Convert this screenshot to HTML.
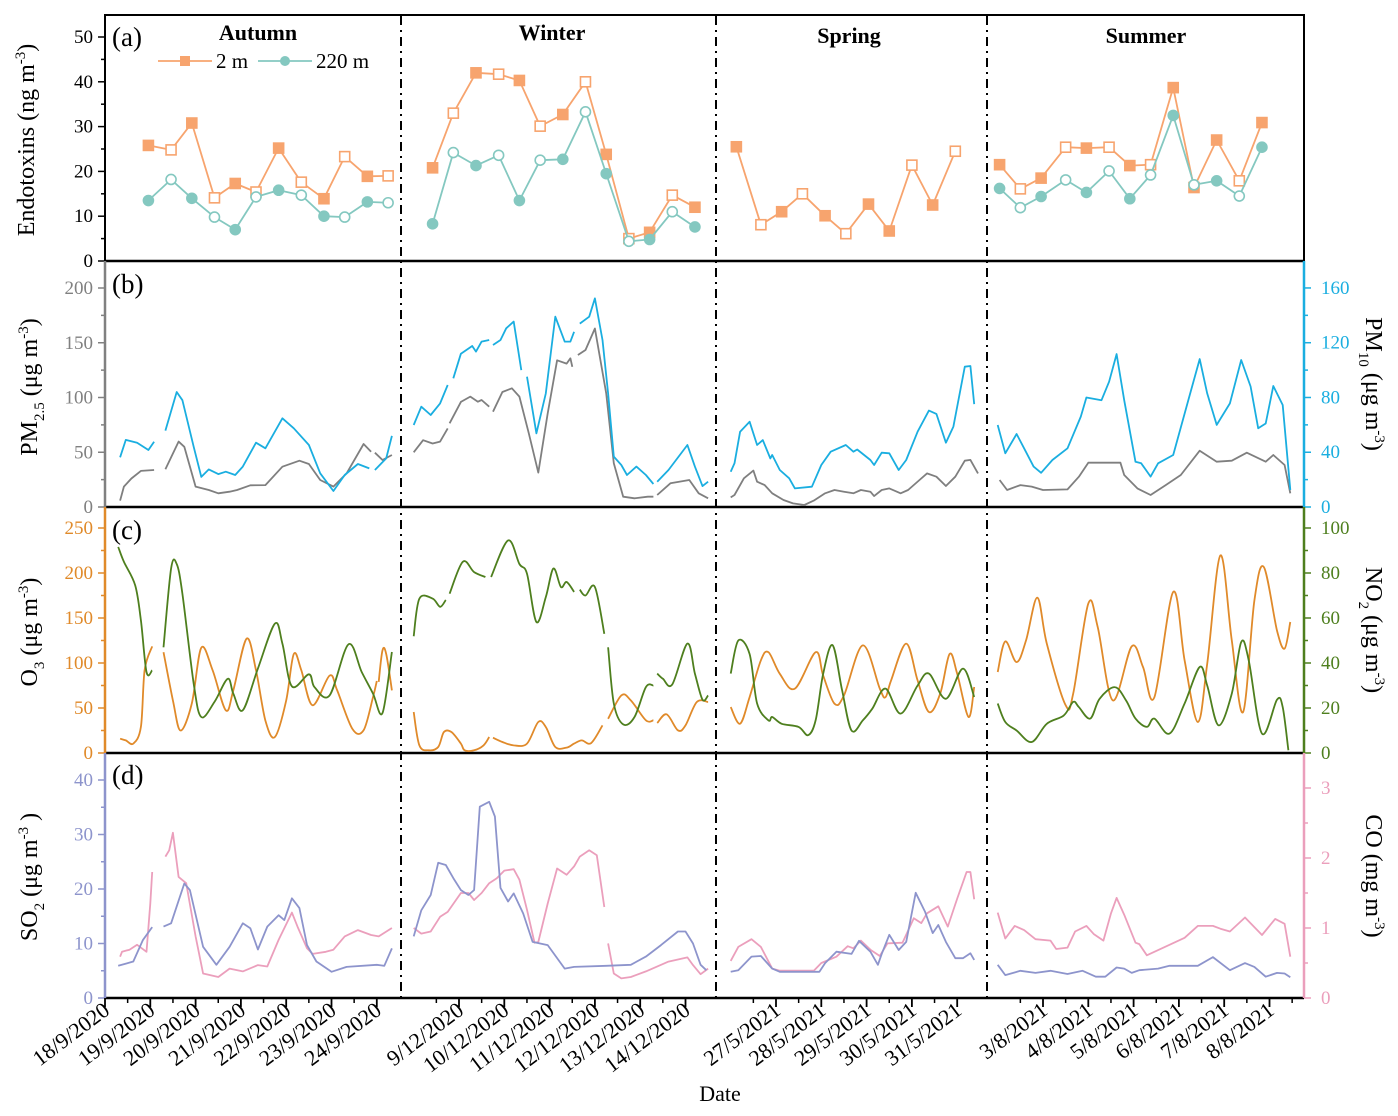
<!DOCTYPE html>
<html><head><meta charset="utf-8"><style>
html,body{margin:0;padding:0;background:#fff;}
svg{display:block;font-family:"Liberation Serif",serif;}
</style></head><body>
<svg id="chart" width="1398" height="1116" viewBox="0 0 1398 1116" xmlns="http://www.w3.org/2000/svg"></svg>
<script>
// ---------- DATA (time in hours from first labelled date of each season) ----------
const xLabelsAutumn=['18/9/2020','19/9/2020','20/9/2020','21/9/2020','22/9/2020','23/9/2020','24/9/2020'];
const xLabelsWinter=['9/12/2020','10/12/2020','11/12/2020','12/12/2020','13/12/2020','14/12/2020'];
const xLabelsSpring=['27/5/2021','28/5/2021','29/5/2021','30/5/2021','31/5/2021'];
const xLabelsSummer=['3/8/2021','4/8/2021','5/8/2021','6/8/2021','7/8/2021','8/8/2021'];

// (a) endotoxins
const endoTAutumn=[23,35,46,58,69,80,92,104,116,127,139,150];
const endo2mAutumn=[25.8,24.8,30.8,14.1,17.3,15.4,25.2,17.6,13.9,23.3,18.9,19.0];
const endo220Autumn=[13.5,18.2,14,9.8,7,14.3,15.8,14.7,10,9.8,13.2,13];
const fill2mAutumn=[1,0,1,0,1,0,1,0,1,0,1,0];
const fill220Autumn=[1,0,1,0,1,0,1,0,1,0,1,0];
const endoTWinter=[-14,-3,9,21,32,43,55,67,78,90,101,113,125];
const endo2mWinter=[20.8,33,42,41.7,40.3,30.1,32.7,40,23.8,5,6.4,14.7,12];
const endo220Winter=[8.3,24.2,21.3,23.6,13.5,22.5,22.7,33.3,19.5,4.4,4.8,11,7.6];
const fill2mWinter=[1,0,1,0,1,0,1,0,1,0,1,0,1];
const fill220Winter=[1,0,1,0,1,0,1,0,1,0,1,0,1];
const endoTSpring=[-21,-8,3,14,26,37,49,60,72,83,95];
const endo2mSpring=[25.5,8.1,11,15,10.1,6.1,12.7,6.7,21.4,12.5,24.5];
const fill2mSpring=[1,0,1,0,1,0,1,1,0,1,0];
const endoTSummer=[-23,-12,-1,12,23,35,46,57,69,80,92,104,116];
const endo2mSummer=[21.5,16.1,18.5,25.4,25.2,25.4,21.3,21.5,38.7,16.4,27,17.9,30.9];
const endo220Summer=[16.2,11.9,14.4,18.1,15.3,20.1,13.9,19.2,32.5,17,17.9,14.5,25.4];
const fill2mSummer=[1,0,1,0,1,0,1,0,1,1,1,0,1];
const fill220Summer=[1,0,1,0,1,0,1,0,1,0,1,0,1];

// (b) PM10 / PM2.5   [hour, value], null = gap
const pm10Autumn=[[8,36.3],[11,49],[17,47],[23,41.6],[26,47.7],null,[32,55.8],[38,84],[41,78],[47,44],[51,22],[55,27.5],[60,24],[64,25.8],[69,23.4],[73,29.5],[80,47],[85,42.9],[94,64.8],[100,57.5],[108,45.3],[114,24.6],[121,11.7],[127,23.4],[134,31.4],[140,28.2],null,[143,27],[149,35.5],[152,51.9]];
const pm25Autumn=[[8,5.8],[10,18.6],[14,26],[19,33],[26,33.8],null,[32,34.4],[39,59.7],[42,55],[48,18.6],[55,15.5],[60,12.5],[66,14],[70,15.5],[77,19.8],[85,20],[94,36.8],[103,42.3],[108,39.3],[114,24.7],[121,18.6],[128,30.7],[137,57.5],[141,50.5],null,[143,49.6],[147,42.9],[152,47.5]];
const pm10Winter=[[-24,59.9],[-20,73.3],[-15,67.2],[-10,75.7],[-6,89.1],null,[-3,94],[1,112],[7,117.6],[9,113.5],[12,120.8],[16,122],null,[18,118.3],[22,122],[25,130.5],[29,135.4],[33,100],null,[36,95.2],[41,53.8],[46,83],[51,139],[56,120.8],[59,120.8],[61,128],null,[64,134],[69,139],[72,152.4],[76,122],[79,83],[82,36.8],[86,30.7],[89,23.4],[94,29.5],[99,23.4],[103,16.8],null,[105,18.5],[111,27],[121,45.3],[125,29.5],[129,15.3],[132,18.5]];
const pm25Winter=[[-24,50],[-19,61],[-14,58],[-10,59.7],[-6,71.8],null,[-5,76.4],[1,96],[6,100.8],[10,96.2],[12,97.7],[16,91.6],null,[18,87],[23,105],[28,108.4],[32,100.8],[37,67.3],[42,31.4],[47,85.5],[52,134],[57,131],[59,135.8],[60,128],null,[63,138.8],[67,143.4],[72,163],[78,103.8],[82,40],[87,9.4],[93,7.9],[100,9.4],[103,9.4],null,[105,11],[112,21.6],[122,24.7],[127,12.5],[132,7.9]];
const pm10Spring=[[-24,25.8],[-22,31.9],[-19,55],[-14,62.3],[-10,45.3],[-7,48.9],[-3,35.5],[-2,38],[2,27],[7,21],[10,13.6],[19,14.8],[24,30.7],[29,40.4],[37,45.3],[41,40.4],[43,42],[50,34.3],[52,30.7],[56,39.7],[60,39.2],[65,27],[69,34.3],[75,55],[81,70.4],[85,68],[90,47],[94,58.7],[100,102.5],[103,103],[105,75.2]];
const pm25Spring=[[-24,8.8],[-22,11],[-17,26.2],[-12,33.2],[-10,23.1],[-6,20],[-2,12.5],[4,6.4],[9,3.3],[15,1.8],[20,5.8],[26,12.5],[31,15.5],[36,14],[41,12.5],[45,15.5],[50,14],[52,10],[56,15.5],[60,17],[66,12.5],[70,15.5],[76,24.7],[80,30.7],[85,27.7],[90,19.2],[95,27.7],[100,42.3],[103,43],[107,30.7]];
const pm10Summer=[[-24,59.9],[-20,39.2],[-14,53.3],[-10,42.9],[-5,29.5],[-1,25],[5,34.3],[13,42.9],[20,66],[23,80],[31,78],[35,91.5],[39,111.7],[43,78],[49,33],[52,31.9],[57,22.2],[61,31.9],[69,38],[77,78],[83,108],[87,83],[92,60],[99,75.7],[105,107.4],[110,88],[114,57.5],[118,61],[122,88.4],[127,74.5],[131,12.4]];
const pm25Summer=[[-23,24.7],[-19,15.5],[-12,20],[-6,18.6],[0,15.5],[13,16.1],[19,27.7],[24,40.5],[41,40.5],[43,29.2],[50,17],[57,11],[65,20],[73,29.2],[83,51.4],[92,41.4],[100,42.3],[108,49.6],[118,41.4],[122,47.5],[128,38.4],[131,12.5]];

// (c) O3 / NO2
const no2Autumn=[[7,91.6],[10,85],[16,74.5],[19,59],[22,36],[25,36.7],null,[31,47],[35,82],[38,84],[41,70.8],[47,30.8],[51,16],[58,22.7],[65,33],[68,26.4],[73,19],[81,37.5],[90,57.5],[94,48.6],[99,29.6],[108,35],[111,29.3],[119,25.6],[129,48.3],[136,36],[142,26.4],[147,17.8],[152,44.9]];
const o3Autumn=[[8,15.9],[11,14],[15,10.4],[19,29],[21,92],[25,118.5],null,[31,112],[36,58.5],[40,25],[46,55],[51,117],[57,92],[64,47.4],[68,69.6],[75,127],[80,92],[85,36],[90,17.8],[96,58.5],[100,110],[104,92],[110,53],[119,86],[123,69.6],[131,27],[137,25.2],[142,62],[144,80],null,[145,79],[147,114],[149,110],[152,69.6]];
const no2Winter=[[-24,51.9],[-21,68.6],[-14,68.6],[-10,65],[-7,68],null,[-5,70.8],[2,85],[8,80.4],[14,78.2],null,[17,78.2],[26,94.5],[32,84],[36,79.7],[41,58.2],[46,69.3],[50,82],[54,73.8],[57,76],[61,71.6],null,[64,72.6],[67,70],[72,73.8],[77,53],null,[79,47],[82,22],[87,12.7],[93,16],[99,29.3],[103,30],null,[105,35.3],[108,33],[113,30.5],[121,48.6],[125,35.3],[129,23.7],[132,25.6]];
const o3Winter=[[-24,45.5],[-21,8.5],[-16,3],[-11,6.7],[-8,23.3],[-4,23.3],[1,10.4],[3,3],[8,3],[13,8.5],[16,17.8],null,[18,17],[23,12.2],[29,8.5],[36,10.4],[42,34.4],[46,28.9],[51,6.7],[57,6],[61,10.4],[65,14],[70,11],[76,30.7],null,[79,38],[86,64],[91,58.5],[99,36.3],[103,36.3],null,[105,33.3],[110,43],[116,25.2],[120,30.7],[126,56.7],[132,56.7]];
const no2Spring=[[-24,35.3],[-20,50],[-14,44],[-10,22],[-4,14.5],[-2,16],[3,13],[12,11.6],[17,7.9],[21,14.5],[25,35.3],[30,47.9],[35,27.9],[40,10],[46,14.5],[51,19.7],[58,28.6],[66,17.5],[75,30],[81,35.3],[90,24.1],[99,37.5],[105,24.9]];
const o3Spring=[[-24,51],[-19,32.6],[-14,62],[-8,103],[-4,112],[2,88],[10,71.5],[21,112],[25,86],[31,54.8],[36,64],[46,119.6],[55,71.5],[58,62],[61,80.7],[69,121.5],[75,80.7],[81,45.5],[87,66],[92,110],[96,88],[102,40],[105,73.3]];
const no2Summer=[[-24,22],[-20,13.8],[-14,10],[-6,4.9],[2,13],[11,16.7],[16,22.7],[19,20.4],[25,15.3],[30,24.1],[38,29.3],[44,23.4],[49,15.3],[55,11.6],[59,15.3],[67,8.6],[75,22],[83,38.2],[87,30],[93,12.3],[100,26.4],[105,49.3],[109,41.2],[116,8.6],[124,23.7],[127,20.4],[130,1.2]];
const o3Summer=[[-24,90],[-20,124],[-14,101],[-9,125],[-3,172.6],[2,121.5],[12,53],[16,66],[24,166],[29,140],[37,58.5],[47,118.5],[53,95.5],[59,62],[69,179],[75,103],[82,34.4],[87,99],[94,219.6],[100,125],[106,45.5],[112,169.6],[117,206.7],[124,136],[128,116],[131,145.6]];

// (d) SO2 / CO
const so2Autumn=[[7,5.9],[15,6.7],[20,10.6],[25,13],null,[31,13.1],[35,13.7],[42,21],[45,19.8],[52,9.4],[59,6.1],[66,9.4],[73,13.7],[77,12.8],[81,8.9],[86,13.1],[92,15.2],[95,14.3],[99,18.3],[103,16.5],[107,9.7],[112,6.7],[120,4.8],[128,5.7],[144,6.1],[148,5.9],[152,9.1]];
const coAutumn=[[8,0.59],[9,0.66],[13,0.69],[17,0.76],[22,0.66],[24,1.35],[25,1.8],null,[32,2.02],[34,2.11],[36,2.36],[39,1.73],[43,1.64],[48,0.88],[52,0.35],[60,0.3],[66,0.42],[73,0.38],[81,0.47],[86,0.45],[92,0.83],[99,1.22],[102,1.02],[107,0.71],[110,0.63],[117,0.66],[121,0.69],[127,0.88],[134,0.97],[141,0.9],[145,0.88],[152,1.0]];
const so2Winter=[[-24,11.3],[-20,16.1],[-15,18.9],[-11,24.8],[-7,24.4],[-3,22],[1,19.8],[5,18.9],[8,19.8],[11,35.1],[16,36],[19,33.3],[22,20.2],[26,17.7],[29,19.2],[34,15.5],[39,10.3],[47,9.7],[56,5.4],[61,5.7],[78,5.9],[91,6.1],[99,7.6],[107,9.7],[116,12.2],[120,12.2],[124,10],[128,6.1],[131,5.1]];
const coWinter=[[-24,1.0],[-20,0.92],[-15,0.95],[-10,1.16],[-6,1.23],[1,1.5],[5,1.5],[8,1.4],[12,1.5],[16,1.64],[20,1.71],[24,1.82],[29,1.84],[32,1.69],[36,1.26],[40,0.79],[42,0.8],[47,1.35],[52,1.85],[57,1.76],[61,1.88],[64,2.02],[69,2.11],[73,2.04],[77,1.3],null,[79,0.78],[82,0.35],[86,0.28],[91,0.3],[99,0.38],[111,0.52],[121,0.58],[124,0.47],[128,0.34],[132,0.42]];
const so2Spring=[[-24,4.8],[-20,5.1],[-13,7.6],[-8,7.7],[-2,5.4],[2,4.8],[23,4.8],[26,6.4],[32,8.5],[40,8.1],[44,10.5],[50,8.5],[54,6.1],[56,8.1],[60,11.6],[65,8.8],[69,10.3],[74,19.3],[79,15.8],[83,11.9],[86,13.4],[90,10.3],[95,7.3],[99,7.3],[103,8.2],[105,7.0]];
const coSpring=[[-24,0.53],[-20,0.73],[-13,0.84],[-8,0.73],[-2,0.42],[2,0.39],[20,0.39],[24,0.5],[32,0.59],[38,0.74],[41,0.71],[45,0.82],[50,0.69],[55,0.6],[59,0.78],[67,0.79],[73,1.14],[77,1.07],[80,1.21],[86,1.31],[91,1.02],[96,1.42],[101,1.8],[103,1.8],[105,1.41]];
const so2Summer=[[-24,6.1],[-20,4.2],[-12,5],[-4,4.6],[4,5],[13,4.4],[21,5],[28,3.9],[33,3.9],[39,5.6],[43,5.4],[47,4.6],[51,5.1],[61,5.4],[67,5.9],[82,5.9],[90,7.5],[99,5.1],[107,6.4],[112,5.7],[118,3.9],[124,4.6],[128,4.5],[131,3.8]];
const coSummer=[[-24,1.22],[-20,0.85],[-15,1.03],[-10,0.97],[-4,0.84],[4,0.82],[7,0.7],[13,0.72],[17,0.95],[23,1.03],[27,0.91],[32,0.82],[36,1.21],[39,1.43],[43,1.19],[49,0.79],[51,0.77],[55,0.61],[67,0.76],[75,0.86],[82,1.03],[90,1.03],[94,0.99],[99,0.95],[107,1.15],[116,0.9],[123,1.13],[128,1.06],[131,0.59]];

// ---------- AXES ----------
const NS='http://www.w3.org/2000/svg';
const svg=document.getElementById('chart');
const X0=105, X1=1304;
const seasonStartPx={autumn:105,winter:459,spring:776,summer:1043};
const PX_PER_DAY=45.3;
function xOf(season,h){return seasonStartPx[season]+h*PX_PER_DAY/24;}
function yA(v){return 261-v*4.48;}
function yBL(v){return 507-v*1.095;}
function yBR(v){return 507-v*1.369;}
function yCL(v){return 753-v*0.9;}
function yCR(v){return 753-v*2.25;}
function yDL(v){return 998-v*5.45;}
function yDR(v){return 998-v*70;}

function mk(tag,attrs,parent){const e=document.createElementNS(NS,tag);for(const k in attrs)e.setAttribute(k,attrs[k]);(parent||svg).appendChild(e);return e;}
function txt(s,attrs){const e=mk('text',attrs);e.textContent=s;return e;}

const frame=mk('rect',{x:X0,y:15,width:X1-X0,height:246,fill:'none',stroke:'#000','stroke-width':2});


[261,507,753,998].forEach(function(y){
  const l=mk('line',{x1:X0,x2:X1,y1:y,y2:y,stroke:'#000','stroke-width':2.5});
  
  
});
[401,716,987].forEach(function(x){
  const l=mk('line',{x1:x,x2:x,y1:16,y2:998,stroke:'#000','stroke-width':2,'stroke-dasharray':'9,5,2,5'});
  
  
});

function yAxis(side,top,bottom,yf,max,major,minor,color,fmt,name){
  const x = side==='left'?X0:X1;
  const g=mk('g',{});
  
  
  if(side!=='left'||color!=='#000') mk('line',{x1:x,x2:x,y1:top,y2:bottom,stroke:color,'stroke-width':2.5},g);
  for(let v=0;v<=max+1e-9;v+=minor){
    const isMaj=Math.abs(v/major-Math.round(v/major))<1e-6;
    const y=yf(v); const len=isMaj?7:4;
    const dx= side==='left'?-len:len;
    mk('line',{x1:x,x2:x+dx,y1:y,y2:y,stroke:color,'stroke-width':1.5},g);
    if(isMaj){
      const t=mk('text',{x:side==='left'?x-12:x+17,y:y+6,'font-size':19,fill:color,'text-anchor':side==='left'?'end':'start'},g);
      t.textContent=fmt(v);
    }
  }
}
const f0=v=>String(Math.round(v));
yAxis('left',15,261,yA,50,10,5,'#000',f0,'y-axis-endotoxins');
yAxis('left',261,507,yBL,200,50,25,'#808080',f0,'y-axis-pm25');
yAxis('right',261,507,yBR,160,40,20,'#1AAEE0',f0,'y-axis-pm10');
yAxis('left',507,753,yCL,250,50,25,'#E08A2A',f0,'y-axis-o3');
yAxis('right',507,753,yCR,100,20,10,'#4E7F1E',f0,'y-axis-no2');
yAxis('left',753,998,yDL,40,10,5,'#8D94CC',f0,'y-axis-so2');
yAxis('right',753,998,yDR,3,1,0.5,'#EB9FBC',f0,'y-axis-co');

function xTicks(season,labels,minorBefore,minorAfter){
  const g=mk('g',{});
  
  
  labels.forEach(function(lab,i){
    const x=xOf(season,i*24);
    mk('line',{x1:x,x2:x,y1:998,y2:1007,stroke:'#000','stroke-width':1.8},g);
    const t=mk('text',{x:x+6,y:1013,'font-size':22,'text-anchor':'end',transform:'rotate(-37 '+(x+6)+' 1013)'},g);
    t.textContent=lab;
    if(i<labels.length-1||minorAfter){const xm=xOf(season,i*24+12);mk('line',{x1:xm,x2:xm,y1:998,y2:1003,stroke:'#000','stroke-width':1.5},g);}
  });
  if(minorBefore){const xm=xOf(season,-12);mk('line',{x1:xm,x2:xm,y1:998,y2:1003,stroke:'#000','stroke-width':1.5},g);}
}
xTicks('autumn',xLabelsAutumn,false,false);
xTicks('winter',xLabelsWinter,true,false);
xTicks('spring',xLabelsSpring,true,false);
xTicks('summer',xLabelsSummer,true,true);

// ---------- SERIES ----------
function pathFrom(pts,season,yf,smooth){
  let d='';let seg=[];
  const segs=[];
  pts.forEach(function(p){ if(p===null){ if(seg.length)segs.push(seg); seg=[]; } else seg.push([xOf(season,p[0]),yf(p[1])]); });
  if(seg.length)segs.push(seg);
  segs.forEach(function(s){
    d+='M'+s[0][0].toFixed(1)+','+s[0][1].toFixed(1);
    for(let i=1;i<s.length;i++){
      if(smooth){
        const p0=s[i-2]||s[i-1],p1=s[i-1],p2=s[i],p3=s[i+1]||s[i];
        const c1x=p1[0]+(p2[0]-p0[0])/6,c1y=p1[1]+(p2[1]-p0[1])/6;
        const c2x=p2[0]-(p3[0]-p1[0])/6,c2y=p2[1]-(p3[1]-p1[1])/6;
        d+='C'+c1x.toFixed(1)+','+c1y.toFixed(1)+' '+c2x.toFixed(1)+','+c2y.toFixed(1)+' '+p2[0].toFixed(1)+','+p2[1].toFixed(1);
      } else d+='L'+s[i][0].toFixed(1)+','+s[i][1].toFixed(1);
    }
  });
  return d;
}
function series(pts,season,yf,color,smooth,name){
  const p=mk('path',{d:pathFrom(pts,season,yf,smooth),fill:'none',stroke:color,'stroke-width':1.8,'stroke-linejoin':'round'});
  
  
}
const C_PM25='#7F7F7F',C_PM10='#1AAEE0',C_O3='#E08A2A',C_NO2='#4E7F1E',C_SO2='#8D94CC',C_CO='#EB9FBC';
[['autumn',pm25Autumn,pm10Autumn],['winter',pm25Winter,pm10Winter],['spring',pm25Spring,pm10Spring],['summer',pm25Summer,pm10Summer]].forEach(function(a){
  series(a[1],a[0],yBL,C_PM25,false,'pm25-line-'+a[0]);
  series(a[2],a[0],yBR,C_PM10,false,'pm10-line-'+a[0]);
});
[['autumn',o3Autumn,no2Autumn],['winter',o3Winter,no2Winter],['spring',o3Spring,no2Spring],['summer',o3Summer,no2Summer]].forEach(function(a){
  series(a[1],a[0],yCL,C_O3,true,'o3-line-'+a[0]);
  series(a[2],a[0],yCR,C_NO2,true,'no2-line-'+a[0]);
});
[['autumn',so2Autumn,coAutumn],['winter',so2Winter,coWinter],['spring',so2Spring,coSpring],['summer',so2Summer,coSummer]].forEach(function(a){
  series(a[2],a[0],yDR,C_CO,false,'co-line-'+a[0]);
  series(a[1],a[0],yDL,C_SO2,false,'so2-line-'+a[0]);
});

const C_2M='#F7A46E',C_220='#84C8C0';
function endo(season,ts,vals,fills,color,shape,name){
  const pts=ts.map((t,i)=>[t,vals[i]]);
  series(pts,season,yA,color,false,name+'-line');
  ts.forEach(function(t,i){
    const x=xOf(season,t),y=yA(vals[i]);
    let m;
    if(shape==='square') m=mk('rect',{x:x-5,y:y-5,width:10,height:10,fill:fills[i]?color:'#fff',stroke:color,'stroke-width':1.6});
    else m=mk('circle',{cx:x,cy:y,r:5,fill:fills[i]?color:'#fff',stroke:color,'stroke-width':1.6});
    
    
  });
}
endo('autumn',endoTAutumn,endo2mAutumn,fill2mAutumn,C_2M,'square','endotoxin-2m-autumn');
endo('autumn',endoTAutumn,endo220Autumn,fill220Autumn,C_220,'circle','endotoxin-220m-autumn');
endo('winter',endoTWinter,endo2mWinter,fill2mWinter,C_2M,'square','endotoxin-2m-winter');
endo('winter',endoTWinter,endo220Winter,fill220Winter,C_220,'circle','endotoxin-220m-winter');
endo('spring',endoTSpring,endo2mSpring,fill2mSpring,C_2M,'square','endotoxin-2m-spring');
endo('summer',endoTSummer,endo2mSummer,fill2mSummer,C_2M,'square','endotoxin-2m-summer');
endo('summer',endoTSummer,endo220Summer,fill220Summer,C_220,'circle','endotoxin-220m-summer');

// ---------- TEXT ----------
function label(s,attrs,name){const t=txt(s,attrs);return t;}
label('(a)',{x:112,y:46,'font-size':27},'panel-label-a');
label('(b)',{x:112,y:293,'font-size':27},'panel-label-b');
label('(c)',{x:112,y:539,'font-size':27},'panel-label-c');
label('(d)',{x:112,y:784,'font-size':27},'panel-label-d');
label('Autumn',{x:258,y:40,'font-size':22,'font-weight':'bold','text-anchor':'middle'},'season-title-autumn');
label('Winter',{x:552,y:40,'font-size':22,'font-weight':'bold','text-anchor':'middle'},'season-title-winter');
label('Spring',{x:849,y:43,'font-size':22,'font-weight':'bold','text-anchor':'middle'},'season-title-spring');
label('Summer',{x:1146,y:43,'font-size':22,'font-weight':'bold','text-anchor':'middle'},'season-title-summer');
const lg=mk('g',{});


mk('line',{x1:158,x2:212,y1:61,y2:61,stroke:C_2M,'stroke-width':1.8},lg);
mk('rect',{x:180,y:56,width:10,height:10,fill:C_2M},lg);
const l1=mk('text',{x:216,y:68,'font-size':21},lg);l1.textContent='2 m';
mk('line',{x1:258,x2:312,y1:61,y2:61,stroke:C_220,'stroke-width':1.8},lg);
mk('circle',{cx:285,cy:61,r:5,fill:C_220},lg);
const l2=mk('text',{x:316,y:68,'font-size':21},lg);l2.textContent='220 m';

function rotLabel(html,x,y,deg,name){
  const t=mk('text',{x:x,y:y,'font-size':24,'text-anchor':'middle',transform:'rotate('+deg+' '+x+' '+y+')'});
  t.innerHTML=html;
  
  
}
rotLabel('Endotoxins (ng m<tspan font-size="15" dy="-9">-3</tspan><tspan dy="9">)</tspan>',34,140,-90,'y-axis-title-endotoxins');
rotLabel('PM<tspan font-size="15" dy="7">2.5</tspan><tspan dy="-7"> (μg m</tspan><tspan font-size="15" dy="-9">-3</tspan><tspan dy="9">)</tspan>',37,387,-90,'y-axis-title-pm25');
rotLabel('O<tspan font-size="15" dy="7">3</tspan><tspan dy="-7"> (μg m</tspan><tspan font-size="15" dy="-9">-3</tspan><tspan dy="9">)</tspan>',37,632,-90,'y-axis-title-o3');
rotLabel('SO<tspan font-size="15" dy="7">2</tspan><tspan dy="-7"> (μg m</tspan><tspan font-size="15" dy="-9">-3</tspan><tspan dy="9"> )</tspan>',37,877,-90,'y-axis-title-so2');
rotLabel('PM<tspan font-size="15" dy="7">10</tspan><tspan dy="-7"> (μg m</tspan><tspan font-size="15" dy="-9">-3</tspan><tspan dy="9">)</tspan>',1366,384,90,'y-axis-title-pm10');
rotLabel('NO<tspan font-size="15" dy="7">2</tspan><tspan dy="-7"> (μg m</tspan><tspan font-size="15" dy="-9">-3</tspan><tspan dy="9">)</tspan>',1366,630,90,'y-axis-title-no2');
rotLabel('CO (mg m<tspan font-size="15" dy="-9">-3</tspan><tspan dy="9">)</tspan>',1366,876,90,'y-axis-title-co');
label('Date',{x:720,y:1101,'font-size':22,'text-anchor':'middle'},'x-axis-title');
</script>
</body></html>
